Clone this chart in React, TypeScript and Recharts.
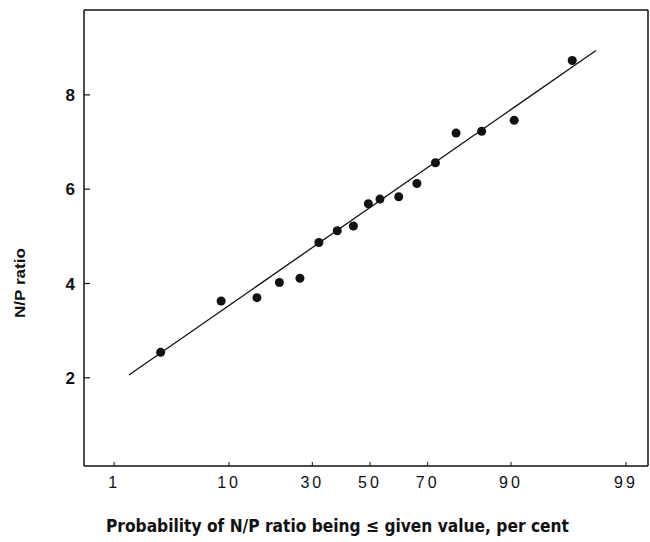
import { ComposedChart, Scatter, Line, XAxis, YAxis, ReferenceLine } from "recharts";

// cumulative probability (per cent) of each ranked N/P ratio
const probability = [2.85, 8.8, 15.2, 20.5, 26.2, 32.1, 38.3, 44.0, 49.4, 53.6, 60.3, 66.5, 72.4, 78.3, 84.5, 90.5, 96.7];
const npRatio = [2.54, 3.63, 3.7, 4.02, 4.11, 4.87, 5.12, 5.22, 5.69, 5.79, 5.84, 6.12, 6.56, 7.19, 7.23, 7.46, 8.73];

// ends of the fitted straight line
const fitProbability = [1.42, 98.0];
const fitRatio = [2.06, 8.94];

const probTicks = [1, 10, 30, 50, 70, 90, 99];
const ratioTicks = [2, 4, 6, 8];

// inverse normal CDF (Acklam), so the x axis is a normal probability scale
const probit = (p: number) => {
  const a = [-39.69683028665376, 220.9460984245205, -275.9285104469687, 138.357751867269, -30.66479806614716, 2.506628277459239];
  const b = [-54.47609879822406, 161.5858368580409, -155.6989798598866, 66.80131188771972, -13.28068155288572];
  const c = [-0.007784894002430293, -0.3223964580411365, -2.400758277161838, -2.549732539343734, 4.374664141464968, 2.938163982698783];
  const d = [0.007784695709041462, 0.3224671290700398, 2.445134137142996, 3.754408661907416];
  const lo = 0.02425;
  if (p < lo) {
    const q = Math.sqrt(-2 * Math.log(p));
    return (((((c[0] * q + c[1]) * q + c[2]) * q + c[3]) * q + c[4]) * q + c[5]) / ((((d[0] * q + d[1]) * q + d[2]) * q + d[3]) * q + 1);
  }
  if (p > 1 - lo) {
    const q = Math.sqrt(-2 * Math.log(1 - p));
    return -(((((c[0] * q + c[1]) * q + c[2]) * q + c[3]) * q + c[4]) * q + c[5]) / ((((d[0] * q + d[1]) * q + d[2]) * q + d[3]) * q + 1);
  }
  const q = p - 0.5;
  const r = q * q;
  return ((((((a[0] * r + a[1]) * r + a[2]) * r + a[3]) * r + a[4]) * r + a[5]) * q) / (((((b[0] * r + b[1]) * r + b[2]) * r + b[3]) * r + b[4]) * r + 1);
};

const points = probability.map((p, i) => ({ z: probit(p / 100), v: npRatio[i] }));
const fitLine = fitProbability.map((p, i) => ({ z: probit(p / 100), v: fitRatio[i] }));
const zTicks = probTicks.map((p) => probit(p / 100));

const X_DOMAIN: [number, number] = [-2.6, 2.527];
const Y_DOMAIN: [number, number] = [0.13, 9.8];

const INK = "#111";

// bottom ticks point up into the plot, label underneath
const ProbTick = (props: any) => {
  const { x, y, payload } = props;
  const idx = zTicks.findIndex((t) => Math.abs(t - payload.value) < 1e-6);
  return (
    <g>
      <line x1={x} y1={y} x2={x} y2={y - 4} stroke={INK} strokeWidth={1} />
      <text x={x} y={y + 22} textAnchor="middle" fontFamily="'Liberation Sans', Arial, sans-serif" fontSize={16} letterSpacing={3} fill={INK}>
        {probTicks[idx]}
      </text>
    </g>
  );
};

// left ticks point right into the plot
const RatioTick = (props: any) => {
  const { x, y, payload } = props;
  return (
    <g>
      <line x1={x} y1={y} x2={x + 6} y2={y} stroke={INK} strokeWidth={1.2} />
      <text x={x - 9} y={y + 6} textAnchor="end" fontFamily="'Liberation Sans', Arial, sans-serif" fontWeight="bold" fontSize={17} fill={INK}>
        {payload.value}
      </text>
    </g>
  );
};

const XTitle = (props: any) => {
  const { viewBox } = props;
  return (
    <text
      x={viewBox.x + 22}
      y={viewBox.y + 66}
      textLength={463}
      lengthAdjust="spacingAndGlyphs"
      fontFamily="'Liberation Sans Narrow', 'DejaVu Sans Condensed', sans-serif"
      fontWeight="bold"
      fontSize={18}
      fill={INK}
    >
      Probability of N/P ratio being ≤ given value, per cent
    </text>
  );
};

const YTitle = (props: any) => {
  const { viewBox } = props;
  const cx = viewBox.x + 19;
  const cy = 283;
  return (
    <text
      x={cx}
      y={cy}
      transform={`rotate(-90 ${cx} ${cy})`}
      textAnchor="middle"
      dominantBaseline="central"
      textLength={70}
      lengthAdjust="spacingAndGlyphs"
      fontFamily="'Liberation Sans', Arial, sans-serif"
      fontWeight="bold"
      fontSize={15}
      fill={INK}
    >
      N/P ratio
    </text>
  );
};

export default function App() {
  return (
    <div style={{ position: "absolute", left: 0, top: 0, width: 650, height: 542, background: "#fff" }}>
      <ComposedChart width={650} height={542} margin={{ top: 10, right: 2, bottom: 0, left: 0 }}>
        <XAxis
          type="number"
          dataKey="z"
          domain={X_DOMAIN}
          allowDataOverflow
          ticks={zTicks}
          interval={0}
          height={76}
          tickSize={0}
          tickMargin={0}
          tickLine={false}
          axisLine={{ stroke: INK, strokeWidth: 1.5 }}
          tick={<ProbTick />}
          label={<XTitle />}
        />
        <YAxis
          type="number"
          dataKey="v"
          domain={Y_DOMAIN}
          allowDataOverflow
          ticks={ratioTicks}
          interval={0}
          width={84}
          tickSize={0}
          tickMargin={0}
          tickLine={false}
          axisLine={{ stroke: INK, strokeWidth: 1.5 }}
          tick={<RatioTick />}
          label={<YTitle />}
        />
        {/* top and right sides of the frame */}
        <ReferenceLine y={Y_DOMAIN[1]} stroke={INK} strokeWidth={1.5} />
        <ReferenceLine x={X_DOMAIN[1]} stroke={INK} strokeWidth={1.5} />
        <Line data={fitLine} dataKey="v" stroke={INK} strokeWidth={1.3} dot={false} isAnimationActive={false} />
        <Scatter data={points} fill={INK} isAnimationActive={false} />
      </ComposedChart>
    </div>
  );
}
